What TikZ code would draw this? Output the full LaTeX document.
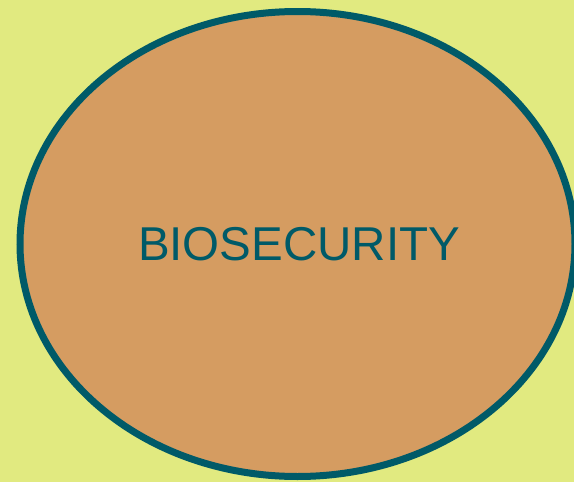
\documentclass[tikz,border=0pt]{standalone}
\usepackage{fontspec}
\setmainfont{Liberation Sans}
\definecolor{bg}{RGB}{225,234,128}
\definecolor{tan}{RGB}{213,156,97}
\definecolor{teal}{RGB}{0,90,104}
\tikzset{
  blob/.style={draw=teal, fill=tan, line width=7pt},
  lbl/.style={text=teal, font=\fontsize{47.5}{55}\selectfont, inner sep=0pt}
}
\begin{document}
\begin{tikzpicture}[x=1pt,y=-1pt]
\useasboundingbox (0,0) rectangle (574,482);
\fill[bg] (0,0) rectangle (574,482);
\draw[blob] (297.5,244) ellipse [x radius=277.5, y radius=232.5];
\node[lbl] (t) at (299,244) {BIOSECURITY};
\end{tikzpicture}
\end{document}
